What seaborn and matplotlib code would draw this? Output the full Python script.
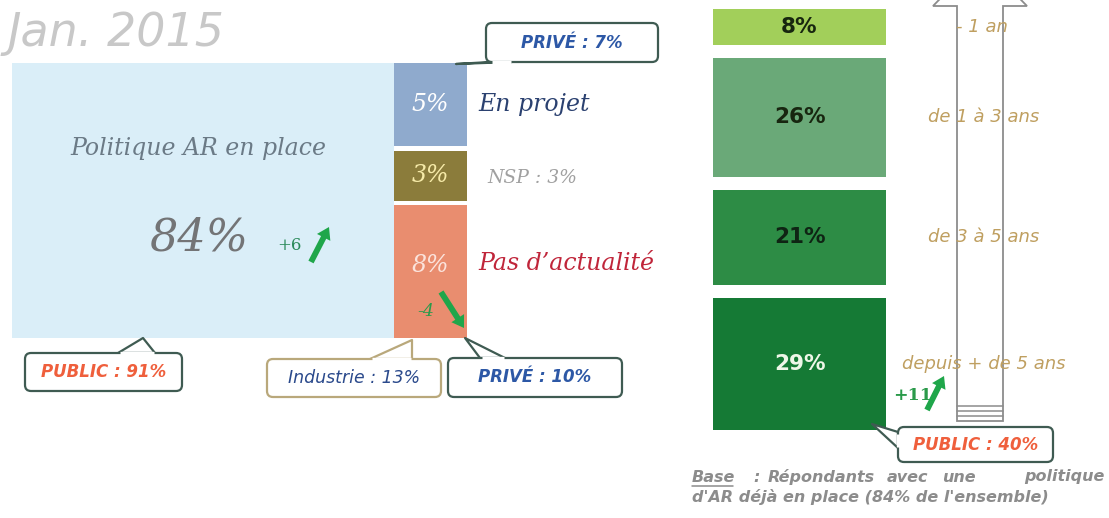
import matplotlib
matplotlib.use("Agg")
import matplotlib.pyplot as plt
import seaborn as sns
import numpy as np
from matplotlib.patches import FancyBboxPatch, Polygon

# ---------------- data ----------------
period_title = "Jan. 2015"
main_label = "Politique AR en place"
main_value = 84
main_delta = "+6"
side_values = [5, 3, 8]
side_value_labels = ["5%", "3%", "8%"]
side_labels = ["En projet", "NSP : 3%", "Pas d’actualité"]
side_delta = "-4"
duration_values = [8, 26, 21, 29]
duration_value_labels = ["8%", "26%", "21%", "29%"]
duration_labels = ["- 1 an", "de 1 à 3 ans", "de 3 à 5 ans", "depuis + de 5 ans"]
duration_delta = "+11"
callout_texts = ["PRIVÉ : 7%", "PUBLIC : 91%", "Industrie : 13%", "PRIVÉ : 10%", "PUBLIC : 40%"]
base_line1 = ["Répondants", "avec", "une", "politique"]
base_line2 = "d'AR déjà en place (84% de l'ensemble)"

# ---------------- style ----------------
sns.set_theme(style="white")
plt.rcParams["font.family"] = ["DejaVu Sans"]
W, H = 1109, 518
fig = plt.figure(figsize=(W / 100, H / 100), dpi=100)
fig.patch.set_facecolor("white")

SERIF = "DejaVu Serif"
main_color = "#daeef8"
side_colors = ["#8faacd", "#8b7c3b", "#e98d6f"]
side_text_colors = ["white", "#f6eaa8", "#fbe3dc"]
side_label_colors = ["#2b4170", "#a0a0a0", "#c0253a"]
dur_colors = ["#a2cf5a", "#6aa978", "#2d8c45", "#157a35"]
dur_text_colors = ["#17260f", "#17260f", "#0f2414", "#eef7e8"]
gold = "#bf9f60"
green = "#1fa64a"

def px_axes(x0, y0, x1, y1):
    return fig.add_axes([x0 / W, 1 - y1 / H, (x1 - x0) / W, (y1 - y0) / H])

# ---------------- left mosaic ----------------
gapL = 0.25
side_total = sum(side_values)
totL = side_total + gapL * (len(side_values) - 1)
axL = px_axes(12, 63, 467, 338)
axL.set_xlim(0, 100)
axL.set_ylim(totL, 0)
axL.bar(0, totL, width=main_value, bottom=0, align="edge", color=main_color, linewidth=0)
bottoms = np.cumsum([0] + side_values[:-1]) + gapL * np.arange(len(side_values))
axL.bar([main_value] * len(side_values), side_values, width=100 - main_value, bottom=bottoms,
        align="edge", color=side_colors, linewidth=0)
axL.axis("off")
xc_side = main_value + (100 - main_value) / 2
label_pos = [0.5, 0.5, 0.46]
for i, (b, v) in enumerate(zip(bottoms, side_values)):
    yc = b + v * label_pos[i]
    axL.text(xc_side, yc, side_value_labels[i], ha="center", va="center", family=SERIF,
             style="italic", fontsize=17, color=side_text_colors[i])
# side labels
label_sizes = [17, 13.5, 17]
label_dx = [2.5, 4.4, 2.5]
label_lpos = [0.5, 0.55, 0.44]
for i, (b, v) in enumerate(zip(bottoms, side_values)):
    yc = b + v * label_lpos[i]
    axL.text(100 + label_dx[i], yc, side_labels[i], ha="left", va="center", family=SERIF,
             style="italic", fontsize=label_sizes[i], color=side_label_colors[i], clip_on=False)
axL.text(41, totL * 0.31, main_label, ha="center", va="center", family=SERIF,
         style="italic", fontsize=17, color="#6b7a86")

# ---------------- right stacked bars ----------------
gapR = 2.85
totR = sum(duration_values) + gapR * (len(duration_values) - 1)
axR = px_axes(713, 9, 886, 430)
axR.set_xlim(0, 1)
axR.set_ylim(totR, 0)
bR = np.cumsum([0] + duration_values[:-1]) + gapR * np.arange(len(duration_values))
axR.bar([0] * len(duration_values), duration_values, width=1, bottom=bR, align="edge",
        color=dur_colors, linewidth=0)
axR.axis("off")
for i, (b, v) in enumerate(zip(bR, duration_values)):
    axR.text(0.5, b + v / 2, duration_value_labels[i], ha="center", va="center",
             fontsize=15.5, fontweight="bold", color=dur_text_colors[i])

# ---------------- overlay ----------------
ov = fig.add_axes([0, 0, 1, 1])
ov.set_xlim(0, W)
ov.set_ylim(H, 0)
ov.axis("off")
ov.patch.set_alpha(0)
ov.set_zorder(10)

ov.text(8, 33, period_title, ha="left", va="center", fontsize=33, style="italic",
        fontweight=200, color="#c8c8c8")

# 84%
ov.text(149, 238, f"{main_value}%", ha="left", va="center", family=SERIF, style="italic",
        fontsize=32, color="#737476")

# deltas + arrows
def green_arrow(x0, y0, x1, y1):
    ov.annotate("", xy=(x1, y1), xytext=(x0, y0),
                arrowprops=dict(arrowstyle="simple,head_width=0.9,head_length=0.7,tail_width=0.35",
                                color=green, lw=0, shrinkA=0, shrinkB=0))

ov.text(277, 246, main_delta, ha="left", va="center", fontsize=12, family=SERIF, color="#2a8a5a")
green_arrow(311, 262, 329, 227)
ov.text(417, 312, side_delta, ha="left", va="center", fontsize=12.5, family=SERIF, style="italic",
        color="#2a9a4a")
green_arrow(441, 292, 464, 328)
ov.text(893, 396, duration_delta, ha="left", va="center", fontsize=12.5, fontweight="bold",
        family=SERIF, color="#2a9a4a")

# duration arrow (double outlined)
arrow_poly = Polygon([(957, 421), (957, 6), (933, 6), (980, -42), (1027, 6), (1003, 6), (1003, 421)],
                     closed=True, facecolor="white", edgecolor="#8c8c8c", lw=1.3, zorder=1)
ov.add_patch(arrow_poly)
for yy in (406, 411, 416):
    ov.plot([957, 1003], [yy, yy], color="#8c8c8c", lw=1.1, zorder=2)

label_xc = [982, 984, 984, 984]
for i, (b, v) in enumerate(zip(bR, duration_values)):
    yc = 9 + (b + v / 2) / totR * 421
    ov.text(label_xc[i], yc, duration_labels[i], ha="center", va="center", fontsize=13,
            style="italic", color=gold, zorder=3)
green_arrow(927, 410, 944, 376)

# callouts
def callout(x0, y0, x1, y1, base, tip, text, tcolor, ecolor, weight="bold", fs=12):
    wedge = Polygon([base[0], tip, base[1]], closed=True, facecolor="white", edgecolor=ecolor,
                    lw=1.6, zorder=5, joinstyle="round")
    ov.add_patch(wedge)
    box = FancyBboxPatch((x0, y0), x1 - x0, y1 - y0, boxstyle="round,pad=0,rounding_size=6",
                         facecolor="white", edgecolor=ecolor, lw=1.6, zorder=6)
    ov.add_patch(box)
    (bx0, by0), (bx1, by1) = base
    if by0 == by1:
        ov.plot([bx0 + 1.5, bx1 - 1.5], [by0, by1], color="white", lw=2.4, zorder=7,
                solid_capstyle="butt")
    else:
        ov.plot([bx0, bx1], [by0 + 1.5, by1 - 1.5], color="white", lw=2.4, zorder=7,
                solid_capstyle="butt")
    ov.text((x0 + x1) / 2, (y0 + y1) / 2, text, ha="center", va="center", fontsize=fs,
            style="italic", fontweight=weight, color=tcolor, zorder=8)

dark_edge = "#3f5b52"
callout(486, 23, 658, 62, [(490, 62), (512, 62)], (456, 64), callout_texts[0], "#2d58a6", dark_edge)
callout(25, 353, 182, 391, [(118, 353), (155, 353)], (143, 338), callout_texts[1], "#ef5f3c", dark_edge)
callout(267, 359, 441, 397, [(370, 359), (412, 359)], (412, 340), callout_texts[2], "#2b4a8c",
        "#b9a87b", weight="normal", fs=12.5)
callout(448, 358, 622, 397, [(480, 358), (505, 358)], (465, 338), callout_texts[3], "#2d58a6", dark_edge)
callout(898, 427, 1053, 462, [(898, 432), (898, 448)], (872, 424), callout_texts[4], "#ef5f3c", dark_edge)

# base note
base_color = "#8c8c8c"
bkw = dict(va="center", fontsize=11.5, style="italic", fontweight="bold", color=base_color)
ov.text(692, 477, "Base", ha="left", **bkw)
ov.plot([692, 733], [485.5, 485.5], color=base_color, lw=1.1)
ov.text(753, 477, ":", ha="left", **bkw)
word_x = [768, 887, 942, 1105]
word_ha = ["left", "left", "left", "right"]
for wx, ha, wd in zip(word_x, word_ha, base_line1):
    ov.text(wx, 477, wd, ha=ha, **bkw)
ov.text(692, 497, base_line2, ha="left", **bkw)

fig.savefig("out.png", dpi=100)
